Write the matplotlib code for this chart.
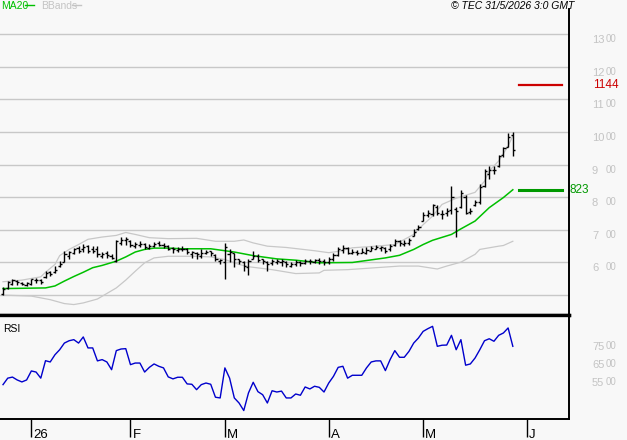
import matplotlib.pyplot as plt
import numpy as np

plt.rcParams['font.family'] = ['Liberation Sans', 'DejaVu Sans']

# Barres OHLC journalieres (fin dec. 2025 -> fin mai 2026)
opens = [502, 522, 535, 542, 538, 532, 535, 545, 545, 555,
         570, 570, 590, 602, 620, 630, 645, 640, 650, 640,
         640, 620, 628, 620, 605, 660, 668, 665, 650, 655,
         658, 645, 650, 660, 655, 650, 645, 638, 640, 640,
         625, 628, 620, 628, 635, 622, 605, 600, 625, 628,
         610, 600, 585, 612, 620, 610, 602, 598, 600, 600,
         602, 590, 595, 602, 598, 606, 602, 608, 606, 600,
         610, 622, 638, 645, 628, 632, 630, 630, 636, 642,
         644, 645, 640, 655, 665, 658, 660, 682, 702, 728,
         745, 748, 770, 748, 752, 760, 765, 770, 800, 755,
         775, 785, 835, 870, 885, 895, 930, 955, 990]
highs = [525, 544, 548, 545, 540, 540, 550, 552, 550, 575,
         575, 588, 603, 634, 636, 645, 652, 658, 655, 652,
         649, 631, 635, 625, 670, 677, 677, 668, 662, 665,
         660, 658, 662, 665, 660, 655, 648, 648, 650, 645,
         636, 632, 640, 638, 636, 625, 612, 661, 640, 630,
         612, 603, 610, 634, 625, 612, 605, 612, 612, 610,
         606, 600, 608, 605, 610, 612, 612, 614, 610, 616,
         628, 648, 655, 648, 640, 638, 645, 648, 652, 653,
         652, 648, 658, 673, 668, 670, 675, 704, 716, 756,
         760, 778, 775, 760, 768, 835, 770, 822, 808, 768,
         793, 840, 886, 895, 895, 930, 953, 998, 1000]
lows = [500, 518, 530, 532, 530, 528, 532, 538, 535, 552,
        558, 568, 585, 600, 612, 625, 628, 632, 630, 628,
        618, 615, 615, 612, 600, 655, 655, 648, 645, 648,
        642, 640, 648, 650, 645, 638, 630, 632, 635, 625,
        615, 612, 615, 625, 620, 603, 594, 548, 600, 585,
        595, 575, 563, 610, 600, 596, 575, 592, 594, 590,
        585, 586, 590, 590, 595, 596, 598, 596, 592, 596,
        605, 620, 630, 625, 625, 622, 628, 625, 635, 640,
        635, 630, 636, 652, 652, 652, 655, 680, 701, 726,
        738, 741, 745, 732, 741, 750, 678, 768, 748, 748,
        772, 778, 831, 855, 870, 892, 922, 953, 925]
closes = [520, 540, 545, 540, 535, 538, 548, 546, 540, 568,
          566, 578, 595, 625, 632, 640, 636, 648, 635, 636,
          625, 626, 622, 615, 665, 670, 672, 655, 658, 658,
          648, 652, 656, 655, 652, 642, 640, 642, 642, 632,
          632, 625, 630, 632, 630, 612, 608, 648, 632, 612,
          605, 590, 603, 620, 608, 605, 594, 605, 604, 605,
          594, 594, 600, 597, 606, 604, 607, 606, 601, 612,
          622, 640, 645, 630, 632, 630, 632, 638, 644, 646,
          646, 636, 652, 666, 660, 661, 670, 692, 710, 745,
          752, 775, 752, 750, 758, 800, 758, 812, 752, 758,
          785, 830, 880, 885, 882, 925, 950, 985, 945]

# MA20 et bandes de Bollinger (index de barre, valeur)
ma_idx = [0, 9, 11, 13, 15, 17, 19, 21, 24, 26, 28, 30, 32, 35, 38, 42, 44, 46,
          49, 53, 58, 62, 67, 74, 77, 81, 84, 87, 89, 91, 95, 97, 100, 103, 106, 108]
ma_val = [520, 522, 528, 543, 557, 570, 584, 591, 604, 617, 632, 640, 644, 644, 642, 642, 642, 638,
          632, 621, 611, 607, 599, 600, 606, 614, 622, 640, 655, 668, 686, 703, 727, 768, 799, 823]
bb_up_idx = [0, 4, 8, 9, 11, 12, 14, 16, 18, 21, 24, 26, 28, 31, 35, 41, 45, 49, 51, 53,
             56, 60, 66, 69, 71, 74, 79, 83, 87, 89, 91, 93, 96, 100, 102, 103, 105, 107, 108]
bb_up_val = [541, 546, 556, 570, 594, 621, 640, 655, 671, 678, 683, 692, 686, 676, 673, 674, 665, 665, 669, 660,
             650, 646, 636, 630, 634, 645, 650, 655, 686, 716, 742, 778, 797, 815, 849, 881, 911, 957, 988]
bb_low_idx = [0, 6, 10, 13, 15, 17, 20, 22, 24, 26, 28, 30, 32, 35, 41, 44, 47, 50, 52,
              57, 62, 67, 68, 73, 77, 80, 84, 88, 92, 94, 97, 100, 101, 103, 105, 106, 108]
bb_low_val = [500, 497, 486, 474, 471, 476, 488, 505, 522, 546, 573, 599, 614, 619, 619, 617, 609, 594, 587,
              578, 566, 568, 576, 578, 582, 585, 589, 589, 580, 589, 601, 625, 640, 645, 650, 652, 665]

rsi = [52.4, 56, 56.6, 55, 53.9, 55, 60, 59.4, 56, 65.7,
       65, 69, 71.8, 75.5, 76.8, 77.4, 75.5, 78.9, 72.8, 72.8,
       65.6, 66.3, 65, 60.7, 71.3, 72.2, 72.4, 63.5, 64.4, 64.4,
       59.4, 62, 63.9, 62.6, 61.7, 56.7, 55.6, 56.5, 56.5, 52.8,
       52.6, 49.6, 52.4, 53.3, 52.6, 45.4, 45, 61.7, 56, 45,
       42.2, 38, 47.8, 53.7, 48.5, 46.8, 42.2, 49, 48.3, 48.8,
       45, 45, 47.2, 46.5, 51.1, 50, 51.5, 50.9, 48.3, 53.3,
       57, 62, 62.6, 56, 57.6, 57.6, 57.6, 61.7, 65, 65.6,
       65.6, 60.2, 66.3, 71.3, 67.6, 67.6, 70.9, 75.5, 78.3, 82,
       83.5, 84.8, 73.7, 74.3, 74.4, 79.8, 71.8, 77.4, 63.2, 63.9,
       67.2, 71.8, 76.8, 77.9, 76.5, 79.8, 81.1, 83.9, 73.7]

month_pos = [6, 27, 47, 69, 89, 111]
month_lbl = ['26', 'F', 'M', 'A', 'M', 'J']
grid_vals = [500, 600, 700, 800, 900, 1000, 1100, 1200, 1300]
price_lbls = [600, 700, 800, 900, 1000, 1100, 1200, 1300]
rsi_lbls = [75, 65, 55]
level_red = 1144
level_ma = 823

bg = '#f8f8f8'
grey = '#c4c4c4'

fig = plt.figure(figsize=(6.27, 4.40), dpi=100, facecolor=bg)
ax = fig.add_axes([0, 125 / 440, 569 / 627, 306 / 440], facecolor=bg)
ax2 = fig.add_axes([0, 21 / 440, 569 / 627, 104 / 440], facecolor=bg)

x = np.arange(len(closes))

for v in grid_vals:
    ax.axhline(v, color='#c8c8c8', lw=1.0, zorder=0)

ax.plot(bb_up_idx, bb_up_val, color='#c8c8c8', lw=0.9, zorder=1)
ax.plot(bb_low_idx, bb_low_val, color='#c8c8c8', lw=0.9, zorder=1)
ax.plot(ma_idx, ma_val, color='#00c000', lw=1.1, zorder=2)

ax.vlines(x, lows, highs, color='black', lw=1.0, zorder=3)
ax.hlines(opens, x - 0.45, x, color='black', lw=1.0, zorder=3)
ax.hlines(closes, x, x + 0.45, color='black', lw=1.0, zorder=3)

ax.axhline(level_red, xmin=519 / 569, xmax=562 / 569, color='#cc0000', lw=1.6)
ax.axhline(level_ma, xmin=519 / 569, xmax=562 / 569, color='#009900', lw=2.2)

ax.set_xlim(-0.64, 119.9)
ax.set_ylim(439, 1377)
ax.set_xticks([])
ax.set_yticks([])
for s in ['left', 'top']:
    ax.spines[s].set_visible(False)
ax.spines['right'].set_linewidth(1.4)
ax.spines['bottom'].set_linewidth(2.4)

for v in price_lbls:
    ax.annotate(str(v)[:-2], xy=(1, v), xycoords=('axes fraction', 'data'), xytext=(23, -1),
                textcoords='offset pixels', ha='left', va='top', color=grey, fontsize=8,
                annotation_clip=False)
    ax.annotate('00', xy=(1, v), xycoords=('axes fraction', 'data'), xytext=(37, 0),
                textcoords='offset pixels', ha='left', va='top', color=grey, fontsize=7,
                annotation_clip=False)

ax.annotate(str(level_red), xy=(1, level_red), xycoords=('axes fraction', 'data'), xytext=(24, 0),
            textcoords='offset pixels', ha='left', va='center', color='#cc0000', fontsize=8.5,
            annotation_clip=False)
ax.annotate(str(level_ma), xy=(1, level_ma), xycoords=('axes fraction', 'data'), xytext=(1, 0),
            textcoords='offset pixels', ha='left', va='center', color='#009900', fontsize=8.5,
            annotation_clip=False)

# panneau RSI
ax2.plot(x, rsi, color='#0000cc', lw=1.0)
ax2.set_xlim(-0.64, 119.9)
ax2.set_ylim(33.3, 91.1)
ax2.set_yticks([])
ax2.set_xticks(month_pos)
ax2.tick_params(axis='x', direction='out', length=13, width=1, color='black', labelbottom=False)
ax2.spines['left'].set_visible(False)
ax2.spines['top'].set_linewidth(2.4)
ax2.spines['right'].set_linewidth(1.4)
ax2.spines['bottom'].set_linewidth(1.4)

for p, lbl in zip(month_pos, month_lbl):
    ax2.annotate(lbl, xy=(p, 0), xycoords=('data', 'axes fraction'), xytext=(2, -19),
                 textcoords='offset pixels', ha='left', va='baseline', fontsize=9.5,
                 annotation_clip=False)

for v in rsi_lbls:
    ax2.annotate(str(v), xy=(1, v), xycoords=('axes fraction', 'data'), xytext=(23, 2),
                 textcoords='offset pixels', ha='left', va='top', color=grey, fontsize=8,
                 annotation_clip=False)
    ax2.annotate('00', xy=(1, v), xycoords=('axes fraction', 'data'), xytext=(37, 3),
                 textcoords='offset pixels', ha='left', va='top', color=grey, fontsize=7,
                 annotation_clip=False)

# legende et textes du haut
fig.text(1 / 627, 1 - 1 / 440, 'MA20', color='#00c000', fontsize=7.5, va='top', ha='left')
fig.add_artist(plt.Line2D([25 / 627, 34 / 627], [1 - 5 / 440] * 2, color='#00c000', lw=1,
                          transform=fig.transFigure))
fig.text(41 / 627, 1 - 1 / 440, 'BBands', color=grey, fontsize=7.5, va='top', ha='left')
fig.add_artist(plt.Line2D([72 / 627, 81 / 627], [1 - 5 / 440] * 2, color=grey, lw=1,
                          transform=fig.transFigure))
fig.text(574 / 627, 1 - 1 / 440, '\u00a9 TEC 31/5/2026 3:0 GMT', color='black', fontsize=7.5,
         style='italic', va='top', ha='right')
fig.text(3 / 627, 1 - 324 / 440, 'RSI', color='black', fontsize=7.5, va='top', ha='left')

fig.savefig('out.png', dpi=100, facecolor=bg)
